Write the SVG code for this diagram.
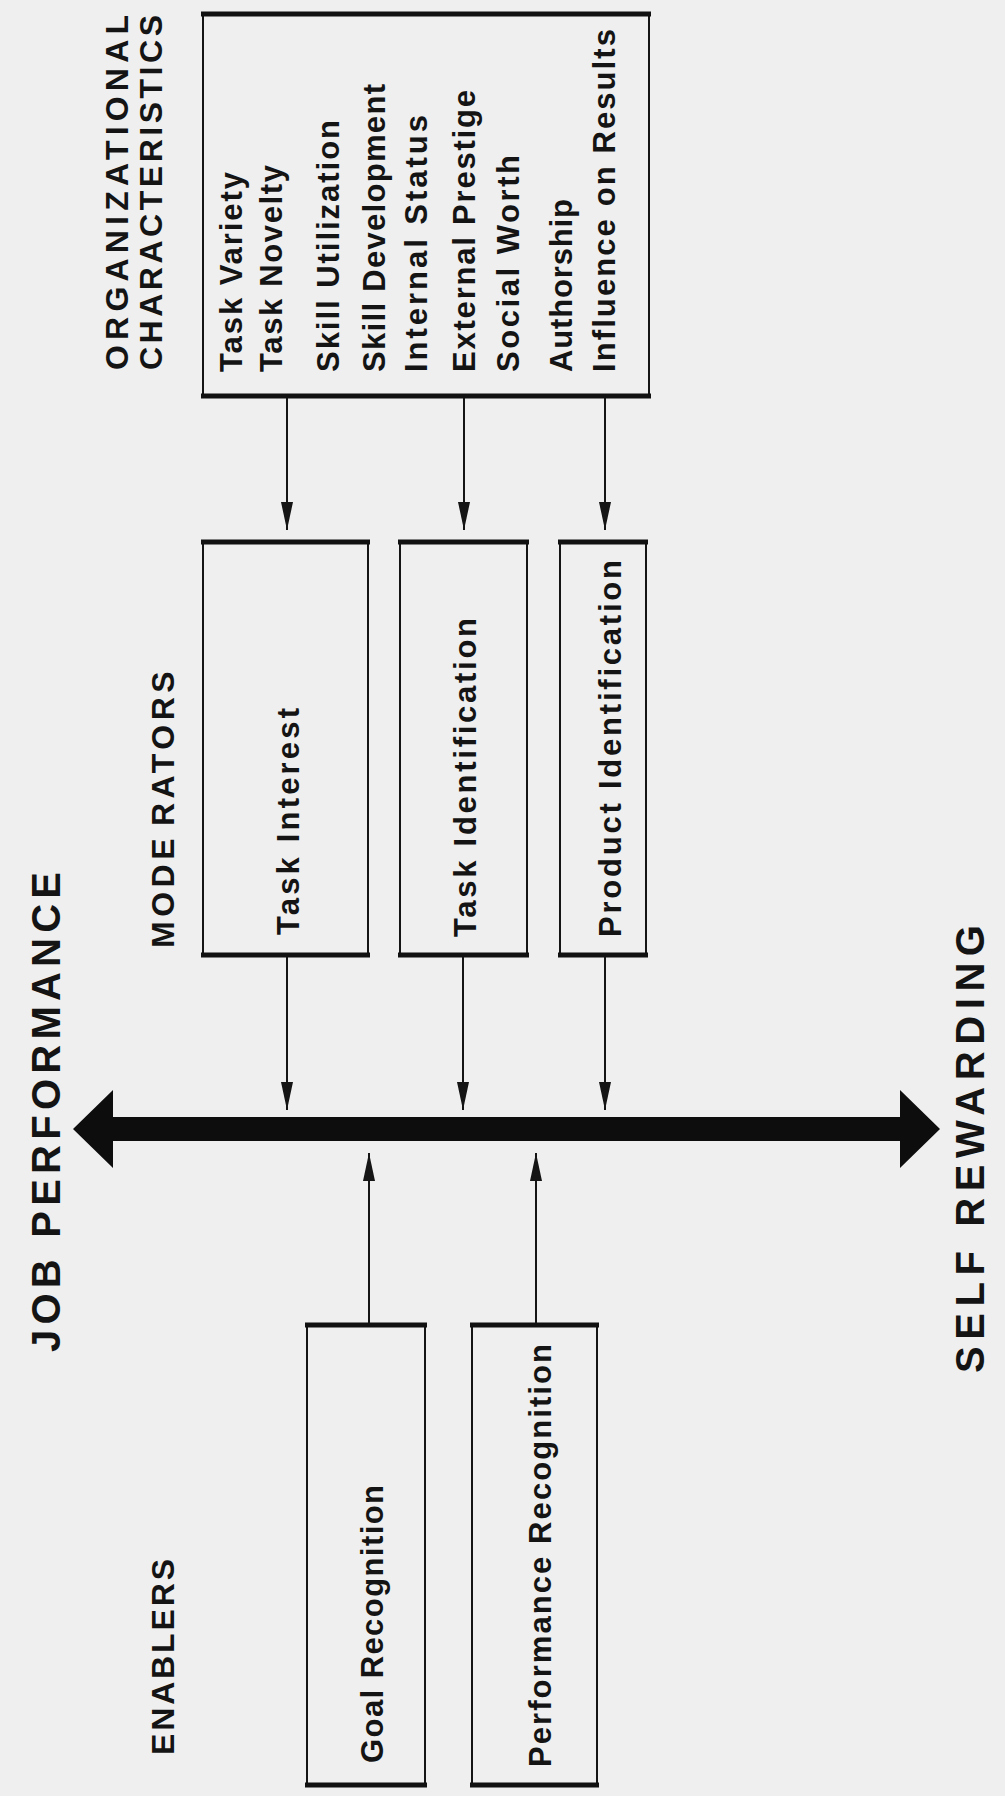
<svg xmlns="http://www.w3.org/2000/svg" width="1005" height="1796" viewBox="0 0 1005 1796">
  <defs>
    <style>
      .bg { fill: #efefef; }
      .side { fill: none; stroke: #151515; stroke-width: 2; }
      .edge { stroke: #111; stroke-width: 5; }
      .conn { stroke: #151515; stroke-width: 2; fill: none; }
      .head { font-family: "Liberation Sans", Arial, sans-serif; font-weight: bold; fill: #141414; }
      .big { font-size: 40px; }
      .sec { font-size: 32px; }
      .item { font-family: "Liberation Sans", Arial, sans-serif; font-weight: bold; font-size: 31px; fill: #141414; }
      .lbl { font-family: "Liberation Sans", Arial, sans-serif; font-weight: bold; font-size: 31px; fill: #141414; }
    </style>
    <marker id="ah" viewBox="0 0 28 12" refX="28" refY="6" markerWidth="28" markerHeight="12" markerUnits="userSpaceOnUse" orient="auto">
      <path d="M0,0 L28,6 L0,12 Z" fill="#151515"/>
    </marker>
  </defs>

  <rect class="bg" x="0" y="0" width="1005" height="1796"/>

  <!-- Main headings -->
  <g id="job-performance">
    <text class="head big" transform="translate(60,1352) rotate(-90)" textLength="480" lengthAdjust="spacing">JOB PERFORMANCE</text>
  </g>
  <g id="self-rewarding">
    <text class="head big" transform="translate(984,1373) rotate(-90)" textLength="448" lengthAdjust="spacing">SELF REWARDING</text>
  </g>

  <!-- Organizational characteristics -->
  <g id="org-heading">
    <text class="head sec" transform="translate(128,370) rotate(-90)" textLength="355" lengthAdjust="spacing">ORGANIZATIONAL</text>
    <text class="head sec" transform="translate(162,370) rotate(-90)" textLength="355" lengthAdjust="spacing">CHARACTERISTICS</text>
  </g>
  <g id="org-box">
    <rect class="side" x="203" y="14" width="446" height="382"/>
    <line class="edge" x1="201" y1="14" x2="651" y2="14"/>
    <line class="edge" x1="201" y1="396" x2="651" y2="396"/>
    <text class="item" transform="translate(242,372) rotate(-90)" textLength="200" lengthAdjust="spacing">Task Variety</text>
    <text class="item" transform="translate(282,372) rotate(-90)" textLength="207" lengthAdjust="spacing">Task Novelty</text>
    <text class="item" transform="translate(339,372) rotate(-90)" textLength="252" lengthAdjust="spacing">Skill Utilization</text>
    <text class="item" transform="translate(385,372) rotate(-90)" textLength="288" lengthAdjust="spacing">Skill Development</text>
    <text class="item" transform="translate(427,372) rotate(-90)" textLength="257" lengthAdjust="spacing">Internal Status</text>
    <text class="item" transform="translate(475,372) rotate(-90)" textLength="282" lengthAdjust="spacing">External Prestige</text>
    <text class="item" transform="translate(519,372) rotate(-90)" textLength="217" lengthAdjust="spacing">Social Worth</text>
    <text class="item" transform="translate(572,372) rotate(-90)" textLength="173" lengthAdjust="spacing">Authorship</text>
    <text class="item" transform="translate(615,372) rotate(-90)" textLength="343" lengthAdjust="spacing">Influence on Results</text>
  </g>

  <!-- Moderators -->
  <g id="moderators-heading">
    <text class="head sec" transform="translate(174,948) rotate(-90)" letter-spacing="4.5">MODE<tspan dx="8">RATORS</tspan></text>
  </g>
  <g id="task-interest">
    <rect class="side" x="203" y="542" width="165" height="413"/>
    <line class="edge" x1="201" y1="542" x2="370" y2="542"/>
    <line class="edge" x1="201" y1="955" x2="370" y2="955"/>
    <text class="lbl" transform="translate(299,935) rotate(-90)" textLength="227" lengthAdjust="spacing">Task Interest</text>
  </g>
  <g id="task-identification">
    <rect class="side" x="400" y="542" width="127" height="413"/>
    <line class="edge" x1="398" y1="542" x2="529" y2="542"/>
    <line class="edge" x1="398" y1="955" x2="529" y2="955"/>
    <text class="lbl" transform="translate(476,937) rotate(-90)" textLength="319" lengthAdjust="spacing">Task Identification</text>
  </g>
  <g id="product-identification">
    <rect class="side" x="560" y="542" width="86" height="413"/>
    <line class="edge" x1="558" y1="542" x2="648" y2="542"/>
    <line class="edge" x1="558" y1="955" x2="648" y2="955"/>
    <text class="lbl" transform="translate(621,937) rotate(-90)" textLength="377" lengthAdjust="spacing">Product Identification</text>
  </g>

  <!-- Enablers -->
  <g id="enablers-heading">
    <text class="head sec" transform="translate(174,1755) rotate(-90)" textLength="196" lengthAdjust="spacing">ENABLERS</text>
  </g>
  <g id="goal-recognition">
    <rect class="side" x="307" y="1325" width="118" height="460"/>
    <line class="edge" x1="305" y1="1325" x2="427" y2="1325"/>
    <line class="edge" x1="305" y1="1785" x2="427" y2="1785"/>
    <text class="lbl" transform="translate(383,1763) rotate(-90)" textLength="278" lengthAdjust="spacing">Goal Recognition</text>
  </g>
  <g id="performance-recognition">
    <rect class="side" x="472" y="1325" width="125" height="460"/>
    <line class="edge" x1="470" y1="1325" x2="599" y2="1325"/>
    <line class="edge" x1="470" y1="1785" x2="599" y2="1785"/>
    <text class="lbl" transform="translate(551,1767) rotate(-90)" textLength="423" lengthAdjust="spacing">Performance Recognition</text>
  </g>

  <!-- Connectors -->
  <g id="connectors">
    <line class="conn" x1="287" y1="398" x2="287" y2="530" marker-end="url(#ah)"/>
    <line class="conn" x1="464" y1="398" x2="464" y2="530" marker-end="url(#ah)"/>
    <line class="conn" x1="605" y1="398" x2="605" y2="530" marker-end="url(#ah)"/>
    <line class="conn" x1="287" y1="957" x2="287" y2="1110" marker-end="url(#ah)"/>
    <line class="conn" x1="463" y1="957" x2="463" y2="1110" marker-end="url(#ah)"/>
    <line class="conn" x1="605" y1="957" x2="605" y2="1110" marker-end="url(#ah)"/>
    <line class="conn" x1="369" y1="1323" x2="369" y2="1153" marker-end="url(#ah)"/>
    <line class="conn" x1="536" y1="1323" x2="536" y2="1153" marker-end="url(#ah)"/>
    <polygon id="axis" points="73,1129 113,1090 113,1117 900,1117 900,1090 940,1129 900,1168 900,1141 113,1141 113,1168" fill="#0d0d0d"/>
  </g>
</svg>
